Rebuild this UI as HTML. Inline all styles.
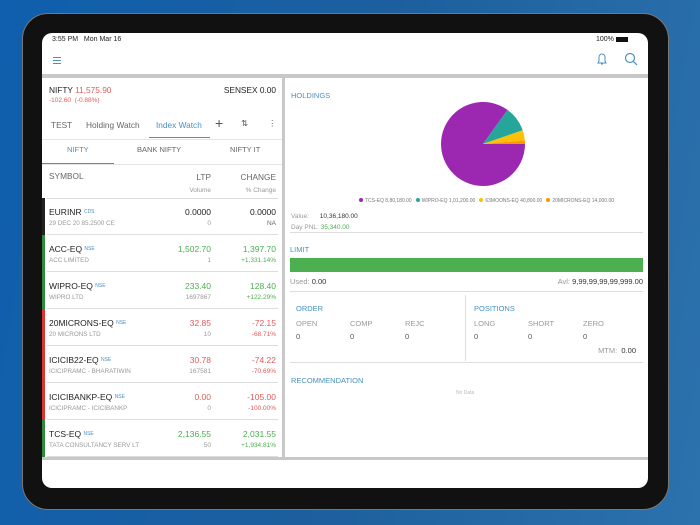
<!DOCTYPE html>
<html><head><meta charset="utf-8">
<style>
*{margin:0;padding:0;box-sizing:border-box}
body{width:700px;height:525px;overflow:hidden;background:linear-gradient(100deg,#0f5fae 0%,#1d5f9e 50%,#2c72ad 100%);font-family:"Liberation Sans",sans-serif;position:relative}
.a{position:absolute;white-space:nowrap}
#frame{left:22px;top:13px;width:647px;height:497px;background:#111;border-radius:26px;border:1px solid #777}
#screen{left:42px;top:33px;width:606px;height:455px;background:#fff;border-radius:10px;overflow:hidden}
.g{color:#4caf50}.r{color:#e35b5b}.gr{color:#999}.bl{color:#4a90c0}
.t9{font-size:8.5px}.t8{font-size:8.3px}.t7{font-size:7.5px}.t6{font-size:6.5px}.t5{font-size:5px}
</style></head><body>
<div id="frame" class="a"></div>
<div id="screen" class="a">
 <div class="a" style="left:10px;top:3px;color:#222;font-size:7px">3:55 PM &nbsp; Mon Mar 16</div>
 <div class="a" style="left:554px;top:3px;color:#222;font-size:7px">100% <span style="display:inline-block;width:12px;height:5px;background:#111;vertical-align:middle"></span></div>
 <div class="a" style="left:11px;top:24px;width:8px"><div style="height:1px;background:#4a90c0;margin-bottom:2px"></div><div style="height:1px;background:#4a90c0;margin-bottom:2px"></div><div style="height:1px;background:#4a90c0"></div></div>
 <svg class="a" style="left:553px;top:19px" width="14" height="14"><path d="M3 11 L11 11 L10 9 L10 5 A3 3 0 0 0 4 5 L4 9 Z M6 12 L8 12" stroke="#4a90c0" fill="none" stroke-width="1"/></svg>
 <svg class="a" style="left:582px;top:19px" width="14" height="14"><circle cx="6" cy="6" r="4.5" stroke="#4a90c0" fill="none" stroke-width="1.2"/><line x1="9.5" y1="9.5" x2="13" y2="13" stroke="#4a90c0" stroke-width="1.2"/></svg>
 <div class="a" style="left:0;top:41px;width:606px;height:4px;background:#c8c8c8"></div>
 <div class="a" style="left:240px;top:45px;width:3px;height:380px;background:#c8c8c8"></div>
 <div class="a" style="left:0;top:424px;width:606px;height:3px;background:#c8c8c8"></div>

 <!-- left panel -->
 <div class="a t8" style="left:7px;top:52px;color:#222">NIFTY <span class="r">11,575.90</span></div>
 <div class="a t6 r" style="left:7px;top:64px">-102.60 &nbsp;(-0.88%)</div>
 <div class="a t8" style="right:372px;top:52px;color:#222">SENSEX 0.00</div>
 <div class="a t8" style="left:9px;top:87px;color:#666">TEST</div>
 <div class="a t8" style="left:44px;top:87px;color:#666">Holding Watch</div>
 <div class="a t8 bl" style="left:114px;top:87px">Index Watch</div>
 <div class="a" style="left:107px;top:104px;width:61px;height:1px;background:#4a90c0"></div>
 <div class="a" style="left:173px;top:82px;font-size:14px;color:#555">+</div>
 <div class="a t8" style="left:199px;top:85px;color:#555">⇅</div>
 <div class="a t9" style="left:226px;top:85px;color:#666">⋮</div>
 <div class="a" style="left:0;top:106px;width:240px;height:1px;background:#e4e4e4"></div>
 <div class="a t7 bl" style="left:25px;top:112px">NIFTY</div>
 <div class="a t7" style="left:95px;top:112px;color:#666">BANK NIFTY</div>
 <div class="a t7" style="left:188px;top:112px;color:#666">NIFTY IT</div>
 <div class="a" style="left:0;top:130px;width:72px;height:1px;background:#4a90c0"></div>
 <div class="a" style="left:0;top:131px;width:240px;height:1px;background:#e4e4e4"></div>
 <div class="a t8" style="left:7px;top:138px;color:#666">SYMBOL</div>
 <div class="a t8" style="right:437px;top:138px;color:#666;text-align:right;line-height:12px">LTP<br><span class="t6 gr">Volume</span></div>
 <div class="a t8" style="right:372px;top:138px;color:#666;text-align:right;line-height:12px">CHANGE<br><span class="t6 gr">% Change</span></div>
 <div class="a" style="left:5px;top:165px;width:231px;height:1px;background:#ddd"></div>
 <div id="rows"></div>

 <!-- right panel -->
 <div class="a t7 bl" style="left:249px;top:58px">HOLDINGS</div>
 <svg id="pie" class="a" style="left:243px;top:45px" width="363" height="130"></svg>
 <div id="legend" class="a t5" style="left:317px;top:165px;color:#777"></div>
 <div class="a t6" style="left:249px;top:180px;color:#999">Value: &nbsp;&nbsp;&nbsp;&nbsp;&nbsp;<span style="color:#333">10,36,180.00</span></div>
 <div class="a t6" style="left:249px;top:191px;color:#999">Day PNL: <span class="g">35,340.00</span></div>
 <div class="a" style="left:248px;top:199px;width:353px;height:1px;background:#ddd"></div>
 <div class="a t7 bl" style="left:248px;top:212px">LIMIT</div>
 <div class="a" style="left:248px;top:225px;width:353px;height:14px;background:#4caf50"></div>
 <div class="a t7" style="left:248px;top:244px;color:#999">Used: <span style="color:#333">0.00</span></div>
 <div class="a t7" style="right:5px;top:244px;color:#999">Avl: <span style="color:#333">9,99,99,99,99,999.00</span></div>
 <div class="a" style="left:248px;top:258px;width:353px;height:1px;background:#ddd"></div>
 <div class="a" style="left:423px;top:262px;width:1px;height:66px;background:#ddd"></div>
 <div class="a t7 bl" style="left:254px;top:271px">ORDER</div>
 <div class="a t7 bl" style="left:432px;top:271px">POSITIONS</div>
 <div class="a t7" style="left:254px;top:286px;color:#999"><span style="position:absolute;left:0">OPEN</span><span style="position:absolute;left:54px">COMP</span><span style="position:absolute;left:109px">REJC</span></div>
 <div class="a t7" style="left:254px;top:299px;color:#555"><span style="position:absolute;left:0">0</span><span style="position:absolute;left:54px">0</span><span style="position:absolute;left:109px">0</span></div>
 <div class="a t7" style="left:432px;top:286px;color:#999"><span style="position:absolute;left:0">LONG</span><span style="position:absolute;left:54px">SHORT</span><span style="position:absolute;left:109px">ZERO</span></div>
 <div class="a t7" style="left:432px;top:299px;color:#555"><span style="position:absolute;left:0">0</span><span style="position:absolute;left:54px">0</span><span style="position:absolute;left:109px">0</span></div>
 <div class="a t7" style="right:12px;top:313px;color:#999">MTM: &nbsp;<span style="color:#333">0.00</span></div>
 <div class="a" style="left:248px;top:329px;width:353px;height:1px;background:#ddd"></div>
 <div class="a t7 bl" style="left:249px;top:343px">RECOMMENDATION</div>
 <div class="a t5" style="left:414px;top:357px;color:#bbb">No Data</div>
</div>
<script>
const rowSymbols=["EURINR","ACC-EQ","WIPRO-EQ","20MICRONS-EQ","ICICIB22-EQ","ICICIBANKP-EQ","TCS-EQ"];
const rowExch=["CDS","NSE","NSE","NSE","NSE","NSE","NSE"];
const rowNames=["29 DEC 20 85.2500 CE","ACC LIMITED","WIPRO LTD","20 MICRONS LTD","ICICIPRAMC - BHARATIWIN","ICICIPRAMC - ICICIBANKP","TATA CONSULTANCY SERV LT"];
const rowLtp=["0.0000","1,502.70","233.40","32.85","30.78","0.00","2,136.55"];
const rowVol=["0","1","1697867","10","167581","0","50"];
const rowChg=["0.0000","1,397.70","128.40","-72.15","-74.22","-105.00","2,031.55"];
const rowPct=["NA","+1,331.14%","+122.29%","-68.71%","-70.69%","-100.00%","+1,934.81%"];
const rowDir=[0,1,1,-1,-1,-1,1];
const rows=document.getElementById('rows');
rowSymbols.forEach((s,i)=>{
 const top=165+i*37, d=rowDir[i];
 const col=d>0?'#4caf50':d<0?'#e35b5b':'#222', bar=d>0?'#2e8b3e':d<0?'#d33':'#222';
 const el=document.createElement('div');
 el.className='a';el.style.cssText=`left:0;top:${top}px;width:240px;height:37px`;
 
 
 el.innerHTML=`<div class="a" style="left:0;top:0;width:3px;height:37px;background:${bar}"></div>
 <div class="a t9" style="left:7px;top:9px;color:#222">${s} <span style="font-size:5px;color:#4a90c0;vertical-align:2px">${rowExch[i]}</span></div>
 <div class="a t6 gr" style="left:7px;top:22px;font-size:6.3px">${rowNames[i]}</div>
 <div class="a t9" style="right:71px;top:9px;color:${d?col:'#222'}">${rowLtp[i]}</div>
 <div class="a t6 gr" style="right:71px;top:22px">${rowVol[i]}</div>
 <div class="a t9" style="right:6px;top:9px;color:${d?col:'#222'}">${rowChg[i]}</div>
 <div class="a t6" style="right:6px;top:22px;color:${d?col:'#666'}">${rowPct[i]}</div>
 <div class="a" style="left:5px;top:36px;width:231px;height:1px;background:#ddd"></div>`;
 rows.appendChild(el);
});
const pieLabels=["TCS-EQ","WIPRO-EQ","63MOONS-EQ","20MICRONS-EQ"];
const pieValues=[880180,101200,40800,14000];
const pieText=["8,80,180.00","1,01,200.00","40,800.00","14,000.00"];
const pieColors=["#9c27b0","#26a69a","#ffc107","#ff9800"];
const svg=document.getElementById('pie'),NS='http://www.w3.org/2000/svg';
const cx=198,cy=66,R=42,tot=pieValues.reduce((a,b)=>a+b,0);
let ang=0;
pieValues.forEach((v,i)=>{
 const a2=ang+v/tot*2*Math.PI;
 const x1=cx+R*Math.cos(ang),y1=cy+R*Math.sin(ang),x2=cx+R*Math.cos(a2),y2=cy+R*Math.sin(a2);
 const p=document.createElementNS(NS,'path');
 p.setAttribute('d',`M${cx},${cy} L${x1},${y1} A${R},${R} 0 ${a2-ang>Math.PI?1:0} 1 ${x2},${y2} Z`);
 p.setAttribute('fill',pieColors[i]);
 
 
 svg.appendChild(p);ang=a2;
});
const lg=document.getElementById('legend');
pieLabels.forEach((l,i)=>{
 const s=document.createElement('span');
 s.style.marginRight='4px';
 
 
 s.innerHTML=`<span style="display:inline-block;width:4px;height:4px;border-radius:50%;background:${pieColors[i]};margin-right:2px"></span>${l} ${pieText[i]}`;
 lg.appendChild(s);
});
</script>
</body></html>
